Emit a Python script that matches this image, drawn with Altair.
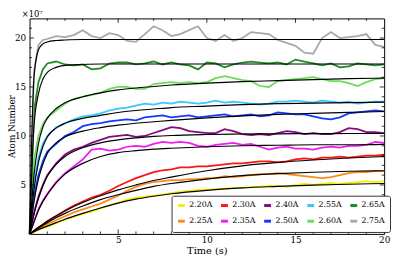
import altair as alt
import pandas as pd

FONT = "DejaVu Serif"

# time grid of the measured traces (s)
T = [0, 0.25, 0.5, 0.75, 1.0, 1.5, 2.0, 2.5, 3.0, 3.5, 4.0, 4.5, 5.0, 5.5, 6.0, 6.5,
     7.0, 7.5, 8.0, 8.5, 9.0, 9.5, 10.0, 10.5, 11.0, 11.5, 12.0, 12.5, 13.0, 13.5,
     14.0, 14.5, 15.0, 15.5, 16.0, 16.5, 17.0, 17.5, 18.0, 18.5, 19.0, 19.5, 20.0]

D220 = [0, 0.2, 0.4, 0.6, 0.75, 1.1, 1.45, 1.75, 2.05, 2.3, 2.6, 2.9, 3.2, 3.5, 3.7, 3.8,
        3.9, 4.0, 4.2, 4.3, 4.4, 4.5, 4.5, 4.6, 4.6, 4.7, 4.7, 4.8, 4.8, 4.9,
        4.9, 4.8, 5.0, 5.1, 5.0, 5.1, 5.2, 5.1, 5.2, 5.3, 5.4, 5.3, 5.4]
D225 = [0, 0.25, 0.5, 0.8, 1.0, 1.4, 1.8, 2.2, 2.5, 2.8, 3.1, 3.5, 3.9, 4.4, 4.8, 5.1,
        5.3, 5.4, 5.5, 5.5, 5.6, 5.6, 5.7, 5.7, 5.9, 5.8, 5.9, 6.0, 6.1, 6.1,
        6.2, 6.1, 6.0, 5.9, 5.8, 5.7, 5.8, 6.0, 6.2, 6.3, 6.3, 6.4, 6.4]
D230 = [0, 0.3, 0.6, 0.95, 1.3, 1.8, 2.4, 2.9, 3.3, 3.7, 4.0, 4.4, 4.9, 5.3, 5.7, 6.0,
        6.3, 6.5, 6.6, 6.8, 6.8, 6.9, 6.9, 7.0, 7.1, 7.2, 7.2, 7.3, 7.4, 7.4,
        7.3, 7.4, 7.6, 7.7, 7.6, 7.8, 7.8, 7.9, 7.8, 7.9, 8.0, 8.0, 8.1]
D235 = [0, 1.3, 2.5, 3.4, 4.1, 5.3, 6.2, 6.9, 7.6, 8.6, 8.7, 8.5, 8.6, 8.9, 9.0, 8.9,
        9.2, 9.4, 9.3, 9.4, 9.3, 9.0, 8.9, 9.1, 9.2, 9.3, 9.1, 9.2, 8.9, 8.6,
        8.8, 8.9, 8.7, 8.7, 8.6, 8.8, 8.9, 8.8, 9.0, 9.0, 9.1, 9.4, 9.3]
D240 = [0, 2.2, 3.8, 5.0, 6.0, 7.2, 8.1, 8.6, 8.9, 9.3, 9.6, 9.9, 10.0, 10.1, 9.9, 10.0,
        10.3, 10.6, 10.9, 10.8, 10.5, 10.4, 10.3, 10.3, 10.7, 10.5, 10.2, 10.1, 10.2, 10.1,
        10.3, 10.5, 10.4, 10.2, 10.3, 10.2, 10.2, 10.4, 10.8, 10.7, 10.4, 10.4, 10.3]
D250 = [0, 3.8, 6.0, 7.4, 8.4, 9.2, 10.0, 10.4, 11.0, 11.2, 11.3, 11.5, 11.6, 11.7, 11.6, 11.9,
        12.0, 12.1, 11.9, 12.0, 12.1, 11.9, 12.0, 12.1, 12.2, 12.0, 12.1, 12.2, 12.0, 12.1,
        12.4, 12.3, 12.2, 12.2, 12.0, 11.8, 11.7, 11.9, 12.3, 12.4, 12.5, 12.6, 12.5]
D255 = [0, 5.0, 7.8, 9.2, 10.0, 10.9, 11.3, 11.7, 12.0, 12.1, 12.3, 12.6, 12.8, 12.9, 13.1, 13.3,
        13.2, 13.4, 13.3, 13.5, 13.4, 13.3, 13.4, 13.6, 13.4, 13.5, 13.4, 13.3, 13.2, 13.3,
        13.5, 13.5, 13.6, 13.5, 13.4, 13.6, 13.5, 13.4, 13.5, 13.3, 13.4, 13.5, 13.5]
D260 = [0, 7.5, 10.0, 11.2, 11.9, 12.6, 13.3, 13.8, 14.0, 14.2, 14.4, 14.8, 15.0, 15.0, 14.8, 14.8,
        15.3, 15.4, 15.5, 15.4, 15.5, 15.4, 15.5, 15.9, 16.1, 15.9, 15.7, 15.6, 15.1, 15.0,
        15.6, 15.7, 15.8, 15.9, 16.0, 15.8, 15.6, 15.6, 15.4, 15.1, 15.5, 15.8, 15.9]
D265 = [0, 12.5, 15.5, 16.8, 17.4, 17.6, 17.3, 17.2, 17.3, 16.8, 16.9, 17.4, 17.5, 17.5, 17.3, 17.4,
        17.6, 17.3, 17.5, 17.3, 17.2, 16.8, 17.5, 17.4, 17.0, 17.3, 17.5, 17.6, 17.5, 17.4,
        17.5, 17.3, 17.8, 17.6, 17.4, 17.2, 17.4, 17.0, 17.1, 17.4, 17.3, 17.2, 17.3]
D275 = [0, 16.5, 19.3, 19.8, 19.9, 20.2, 20.1, 20.3, 20.8, 20.2, 20.0, 20.5, 20.3, 19.7, 19.6, 20.4,
        21.2, 20.8, 20.2, 20.4, 20.8, 21.2, 20.0, 19.7, 20.3, 19.7, 20.0, 20.6, 20.5, 20.4,
        19.8, 19.5, 19.2, 18.5, 18.4, 20.0, 20.6, 20.0, 20.1, 20.2, 20.4, 19.3, 19.1]

# fitted loading curves (black)
TF = [0, 0.25, 0.5, 0.75, 1, 1.5, 2, 3, 4, 5, 6, 7, 8, 10, 12, 14, 16, 18, 20]
F220 = [0, 0.22, 0.43, 0.62, 0.8, 1.15, 1.5, 2.1, 2.65, 3.15, 3.55, 3.85, 4.1, 4.45, 4.7, 4.85, 4.98, 5.07, 5.15]
F225 = [0, 0.3, 0.6, 0.88, 1.15, 1.65, 2.1, 2.85, 3.5, 4.0, 4.45, 4.85, 5.15, 5.6, 5.95, 6.15, 6.3, 6.4, 6.45]
F230 = [0, 0.35, 0.68, 1.0, 1.3, 1.85, 2.35, 3.2, 3.9, 4.5, 5.0, 5.45, 5.8, 6.45, 6.95, 7.3, 7.55, 7.75, 7.9]
F235 = [0, 1.2, 2.4, 3.3, 4.0, 5.2, 6.1, 7.2, 7.9, 8.3, 8.5, 8.65, 8.75, 8.9, 9.0, 9.05, 9.1, 9.1, 9.15]
F240 = [0, 2.0, 3.6, 4.9, 5.9, 7.1, 7.9, 8.8, 9.3, 9.6, 9.8, 9.95, 10.05, 10.15, 10.2, 10.22, 10.24, 10.25, 10.25]
F250 = [0, 3.3, 5.6, 7.1, 8.2, 9.3, 9.9, 10.5, 10.85, 11.1, 11.3, 11.45, 11.6, 11.85, 12.05, 12.2, 12.3, 12.4, 12.5]
F255 = [0, 4.5, 7.3, 8.9, 9.9, 10.8, 11.3, 11.8, 12.1, 12.4, 12.6, 12.75, 12.9, 13.05, 13.2, 13.3, 13.35, 13.4, 13.45]
F260 = [0, 6.0, 9.2, 10.9, 11.8, 12.8, 13.4, 14.0, 14.4, 14.7, 14.9, 15.05, 15.2, 15.4, 15.55, 15.65, 15.75, 15.85, 15.9]
F265 = [0, 11.0, 14.3, 15.8, 16.5, 17.0, 17.2, 17.3, 17.35, 17.35, 17.35, 17.35, 17.35, 17.35, 17.35, 17.35, 17.35, 17.35, 17.35]
F275 = [0, 16.0, 18.8, 19.4, 19.6, 19.75, 19.8, 19.85, 19.85, 19.85, 19.85, 19.85, 19.85, 19.85, 19.85, 19.85, 19.85, 19.85, 19.85]

SERIES = ["2.20A", "2.25A", "2.30A", "2.35A", "2.40A", "2.50A", "2.55A", "2.60A", "2.65A", "2.75A"]
COLORS = ["#f2f200", "#ff8a1c", "#ff1414", "#f01cf0", "#840a84", "#1438ff", "#36c8ff", "#6cdc5a", "#1e8c1e", "#a8a8a8"]
DATA = [D220, D225, D230, D235, D240, D250, D255, D260, D265, D275]
FITS = [F220, F225, F230, F235, F240, F250, F255, F260, F265, F275]

XMAJ = [5, 10, 15]
XMIN = [1, 2, 3, 4, 6, 7, 8, 9, 11, 12, 13, 14, 16, 17, 18, 19]
YMAJ = [5, 10, 15, 20]
YMIN = [1, 2, 3, 4, 6, 7, 8, 9, 11, 12, 13, 14, 16, 17, 18, 19, 21]

W, H = 362, 220

rows = []
for s, vals in zip(SERIES, DATA):
    for t, v in zip(T, vals):
        rows.append({"t": t, "N": v, "series": s})
df = pd.DataFrame(rows)

frows = []
for s, vals in zip(SERIES, FITS):
    for t, v in zip(TF, vals):
        frows.append({"t": t, "N": v, "series": s})
dff = pd.DataFrame(frows)

xs = alt.Scale(domain=[0, 20], nice=False, zero=False)
ys = alt.Scale(domain=[0, 22], nice=False, zero=False)
xaxis = alt.Axis(values=[5, 10, 15, 20], title="Time (s)", labelPadding=2, titlePadding=1,
                 labelFlush=False, labelBound=False, labelOverlap=False, titleFontSize=10)
yaxis = alt.Axis(values=[5, 10, 15, 20], title="Atom Number", labelPadding=4,
                 labelOverlap=False, titleFontSize=9, titleX=-15.3, titleY=H / 2,
                 titleAngle=270, titleAlign="center", titleBaseline="alphabetic")
X = alt.X("t:Q", scale=xs, axis=xaxis)
Y = alt.Y("N:Q", scale=ys, axis=yaxis)

data_lines = alt.Chart(df).mark_line(strokeWidth=1.8, interpolate="linear").encode(
    x=X, y=Y,
    color=alt.Color("series:N",
                    scale=alt.Scale(domain=SERIES, range=COLORS),
                    legend=alt.Legend(orient="none", legendX=145, legendY=181, columns=5,
                                      title=None, symbolType="stroke", symbolStrokeWidth=3,
                                      symbolSize=49, labelFont=FONT, labelFontSize=8,
                                      labelColor="black", labelOffset=3, columnPadding=2,
                                      rowPadding=4, padding=5, strokeColor="#333333",
                                      fillColor="white", cornerRadius=2, labelLimit=60)),
    order=alt.Order("series:N"),
)

fit_lines = alt.Chart(dff).mark_line(color="black", strokeWidth=1.2, interpolate="monotone").encode(
    x=X, y=Y, detail="series:N"
)

def xticks(vals, y0, y1):
    return alt.Chart(pd.DataFrame({"t": vals})).mark_rule(color="black", strokeWidth=0.8).encode(
        x=X, y=alt.value(y0), y2=alt.value(y1))

def yticks(vals, x0, x1):
    return alt.Chart(pd.DataFrame({"N": vals})).mark_rule(color="black", strokeWidth=0.8).encode(
        y=Y, x=alt.value(x0), x2=alt.value(x1))

ticks = [
    xticks(XMAJ, H, H - 4.5), xticks(XMIN, H, H - 2.5),
    xticks(XMAJ, 0, 4.5), xticks(XMIN, 0, 2.5),
    yticks(YMAJ, 0, 4.5), yticks(YMIN, 0, 2.5),
    yticks(YMAJ, W, W - 4.5), yticks(YMIN, W, W - 2.5),
]

scale_note = alt.Chart(pd.DataFrame({"txt": ["×10⁷"]})).mark_text(
    font=FONT, fontSize=8.5, align="left", baseline="alphabetic", color="black"
).encode(text="txt:N", x=alt.value(-8), y=alt.value(-1.5))

chart = alt.layer(data_lines, fit_lines, *ticks, scale_note).properties(
    width=W, height=H,
    autosize=alt.AutoSizeParams(type="none"),
    padding={"left": 22, "top": 8, "right": 7, "bottom": 25},
).configure(font=FONT).configure_view(stroke="black", strokeWidth=1).configure_axis(
    labelFont=FONT, titleFont=FONT, labelFontSize=9,
    labelColor="black", titleColor="black", titleFontWeight="normal",
    grid=False, domain=False, ticks=False,
)

chart.save("out.html", embed_options={"renderer": "svg", "actions": False})
